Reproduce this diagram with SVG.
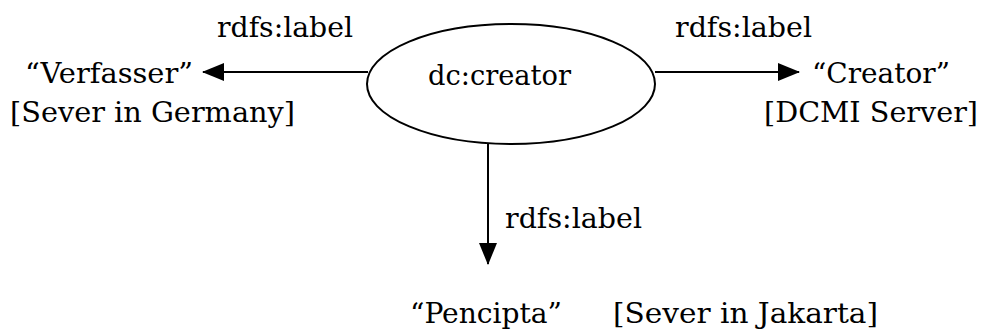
<svg xmlns="http://www.w3.org/2000/svg" width="982" height="332" viewBox="0 0 982 332">
  <style>
    text { font-family: "DejaVu Serif", "Liberation Serif", serif; font-size: 28px; fill: #000; }
    .edge { stroke: #000; stroke-width: 2; fill: none; }
    .node { stroke: #000; stroke-width: 2; fill: #fff; }
  </style>
  <defs>
    <marker id="arrow" viewBox="0 0 22 18" refX="21" refY="9" markerWidth="22" markerHeight="18" markerUnits="userSpaceOnUse" orient="auto">
      <path d="M0,0 L22,9 L0,18 Z" fill="#000"/>
    </marker>
  </defs>

  <g id="connectors">
    <line class="edge" x1="368" y1="72" x2="203" y2="72" marker-end="url(#arrow)"/>
    <line class="edge" x1="655" y1="72" x2="799" y2="72" marker-end="url(#arrow)"/>
    <line class="edge" x1="488" y1="144" x2="488" y2="264" marker-end="url(#arrow)"/>
    <text x="217" y="37" textLength="136" lengthAdjust="spacingAndGlyphs">rdfs:label</text>
    <text x="675" y="37" textLength="137" lengthAdjust="spacingAndGlyphs">rdfs:label</text>
    <text x="505" y="228" textLength="137" lengthAdjust="spacingAndGlyphs">rdfs:label</text>
  </g>

  <g id="dc-creator">
    <ellipse class="node" cx="511" cy="84" rx="144" ry="60"/>
    <text x="428" y="85" textLength="143" lengthAdjust="spacingAndGlyphs">dc:creator</text>
  </g>

  <g id="label-de">
    <text x="25" y="83" textLength="168" lengthAdjust="spacingAndGlyphs">“Verfasser”</text>
    <text x="10" y="122" textLength="285" lengthAdjust="spacingAndGlyphs">[Sever in Germany]</text>
  </g>

  <g id="label-en">
    <text x="812" y="83" textLength="138" lengthAdjust="spacingAndGlyphs">“Creator”</text>
    <text x="764" y="122" textLength="214" lengthAdjust="spacingAndGlyphs">[DCMI Server]</text>
  </g>

  <g id="label-id">
    <text x="410" y="323" textLength="152" lengthAdjust="spacingAndGlyphs">“Pencipta”</text>
    <text x="613" y="323" textLength="265" lengthAdjust="spacingAndGlyphs">[Sever in Jakarta]</text>
  </g>
</svg>
